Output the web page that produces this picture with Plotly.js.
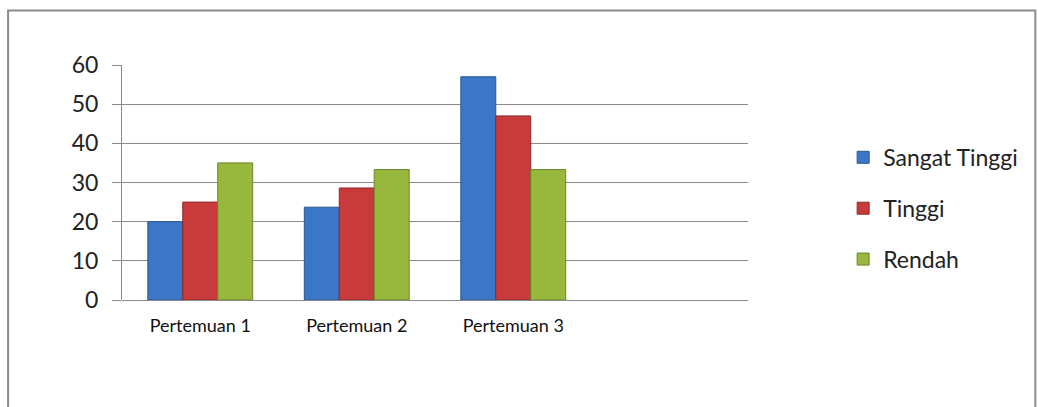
<!DOCTYPE html>
<html>
<head>
<meta charset="utf-8">
<script src="https://cdn.plot.ly/plotly-3.0.1.min.js"></script>
<style>
html,body{margin:0;padding:0;background:#fff;}
#chart{width:1038px;height:407px;}
</style>
</head>
<body>
<div id="chart"></div>
<script>
const categories = ["Pertemuan 1", "Pertemuan 2", "Pertemuan 3"];
const seriesNames = ["Sangat Tinggi", "Tinggi", "Rendah"];
const sangatTinggi = [20, 23.7, 57];
const tinggi = [25, 28.6, 47];
const rendah = [35, 33.3, 33.3];
const yTicks = [0, 10, 20, 30, 40, 50, 60];

const fills = ["#3b77c6", "#c93a3b", "#97b83c"];
const edges = ["#2b5592", "#8e2728", "#6a8528"];
const values = [sangatTinggi, tinggi, rendah];

const traces = values.map((v, i) => ({
  type: "bar",
  name: seriesNames[i],
  x: categories,
  y: v,
  legendgroup: "g" + i,
  marker: {color: fills[i], line: {color: edges[i], width: 1}},
  hoverinfo: "x+y+name"
}));

const layout = {
  width: 1038,
  height: 407,
  margin: {l: 122, r: 290, t: 65, b: 107},
  paper_bgcolor: "#ffffff",
  plot_bgcolor: "#ffffff",
  barmode: "group",
  bargap: 0.33,
  bargroupgap: 0,
  font: {family: "Lato, 'Open Sans', sans-serif", color: "#222"},
  xaxis: {
    type: "category",
    categoryorder: "array",
    categoryarray: categories,
    range: [-0.5, 3.5],
    showgrid: false,
    showline: false,
    zeroline: false,
    ticks: "",
    tickfont: {size: 18, color: "#111"},
    ticklabelstandoff: 13
  },
  yaxis: {
    range: [0, 60],
    tickvals: yTicks,
    ticktext: yTicks.map(String),
    showgrid: true,
    gridcolor: "#8a8a8a",
    gridwidth: 1,
    zeroline: true,
    zerolinecolor: "#8a8a8a",
    zerolinewidth: 1,
    showline: true,
    linecolor: "#8a8a8a",
    linewidth: 1,
    ticks: "outside",
    ticklen: 9,
    tickcolor: "#8a8a8a",
    tickfont: {size: 23, color: "#222"},
    ticklabelstandoff: 9
  },
  legend: {
    x: 1.152,
    y: 0.39,
    xanchor: "left",
    yanchor: "middle",
    font: {size: 23, color: "#222"},
    tracegroupgap: 18,
    bgcolor: "rgba(0,0,0,0)"
  },
  showlegend: true,
  shapes: [{
    type: "rect",
    xref: "paper",
    yref: "paper",
    x0: -0.182,
    x1: 1.459,
    y0: -0.6,
    y1: 1.232,
    line: {color: "#8c8c8c", width: 2},
    fillcolor: "rgba(0,0,0,0)",
    layer: "below"
  }]
};

Plotly.newPlot("chart", traces, layout, {displayModeBar: false, staticPlot: true});
</script>
</body>
</html>
